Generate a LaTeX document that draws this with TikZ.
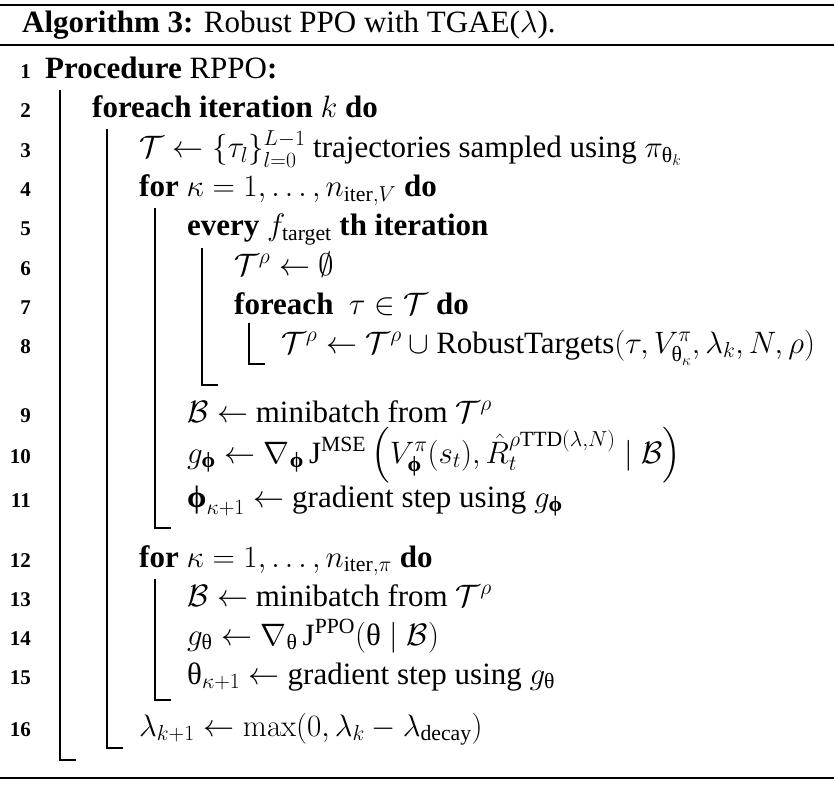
\RequirePackage{fix-cm}
\documentclass[tikz,border=0pt]{standalone}
\usepackage{amsmath,amssymb}
\usepackage[no-math]{fontspec}
\setmainfont{Liberation Serif}
\newcommand{\bphi}{\text{\bfseries ϕ}}
\newcommand{\uth}{\text{θ}}
\tikzset{
  txt/.style={anchor=base west, inner sep=0pt, font=\fontsize{31}{39}\selectfont},
  num/.style={anchor=base east, inner sep=0pt, font=\fontsize{21}{24}\selectfont\bfseries},
  blk/.style={line width=1.1pt},
  heavyrule/.style={line width=2pt},
  lightrule/.style={line width=1.6pt}
}
\begin{document}
\begin{tikzpicture}[x=1pt,y=1pt]
\useasboundingbox (0,0) rectangle (834,-786);
% rules
\draw[heavyrule] (0,-5) -- (834,-5);
\draw[lightrule] (0,-45) -- (834,-45);
\draw[heavyrule] (0,-778) -- (834,-778);
% title
\node[txt] (title) at (22,-33) {\textbf{Algorithm 3:} Robust PPO with TGAE($\lambda$).};
% line numbers
\foreach \n/\y in {1/79,2/118,3/158,4/197,5/236,6/275,7/314,8/353,9/422,10/463,11/507,12/567,13/606,14/645,15/684,16/736}{
  \node[num] (n\n) at (31,-\y) {\n};
}
% lines
\node[txt] (l1) at (45,-79) {\textbf{Procedure} RPPO\textbf{:}};
\node[txt] (l2) at (92,-118) {\textbf{foreach iteration} $k$ \textbf{do}};
\node[txt] (l3) at (139,-158) {$\mathcal{T} \leftarrow \{\tau_l\}_{l=0}^{L-1}$ trajectories sampled using $\pi_{\uth_k}$};
\node[txt] (l4) at (139,-197) {\textbf{for} $\kappa = 1, \dots, n_{\text{iter},V}$ \textbf{do}};
\node[txt] (l5) at (187,-236) {\textbf{every} $f_{\text{target}}$ \textbf{th iteration}};
\node[txt] (l6) at (234,-275) {$\mathcal{T}^\rho \leftarrow \emptyset$};
\node[txt] (l7) at (234,-314) {\textbf{foreach} \ $\tau \in \mathcal{T}$ \textbf{do}};
\node[txt] (l8) at (281,-353) {$\mathcal{T}^\rho \leftarrow \mathcal{T}^\rho \cup \text{RobustTargets}(\tau, V^\pi_{\uth_\kappa}, \lambda_k, N, \rho)$};
\node[txt] (l9) at (187,-422) {$\mathcal{B} \leftarrow$ minibatch from $\mathcal{T}^\rho$};
\node[txt] (l10) at (187,-463) {$g_{\bphi} \leftarrow \nabla_{\bphi}\, \text{J}^{\text{MSE}} \left( V^\pi_{\bphi}(s_t), \hat{R}_t^{\rho\text{TTD}(\lambda,N)} \mid \mathcal{B} \right)$};
\node[txt] (l11) at (187,-507) {$\bphi_{\kappa+1} \leftarrow$ gradient step using $g_{\bphi}$};
\node[txt] (l12) at (139,-567) {\textbf{for} $\kappa = 1, \dots, n_{\text{iter},\pi}$ \textbf{do}};
\node[txt] (l13) at (187,-606) {$\mathcal{B} \leftarrow$ minibatch from $\mathcal{T}^\rho$};
\node[txt] (l14) at (187,-645) {$g_{\uth} \leftarrow \nabla_{\uth}\, \text{J}^{\text{PPO}}(\uth \mid \mathcal{B})$};
\node[txt] (l15) at (187,-684) {$\uth_{\kappa+1} \leftarrow$ gradient step using $g_{\uth}$};
\node[txt] (l16) at (139,-736) {$\lambda_{k+1} \leftarrow \max(0, \lambda_k - \lambda_{\text{decay}})$};
% block lines
\draw[blk] (60,-90) -- (60,-760) -- (76,-760);
\draw[blk] (107,-129) -- (107,-748) -- (123,-748);
\draw[blk] (155,-208) -- (155,-528) -- (171,-528);
\draw[blk] (202,-248) -- (202,-385) -- (218,-385);
\draw[blk] (249,-323) -- (249,-364) -- (265,-364);
\draw[blk] (155,-579) -- (155,-700) -- (171,-700);
\end{tikzpicture}
\end{document}
